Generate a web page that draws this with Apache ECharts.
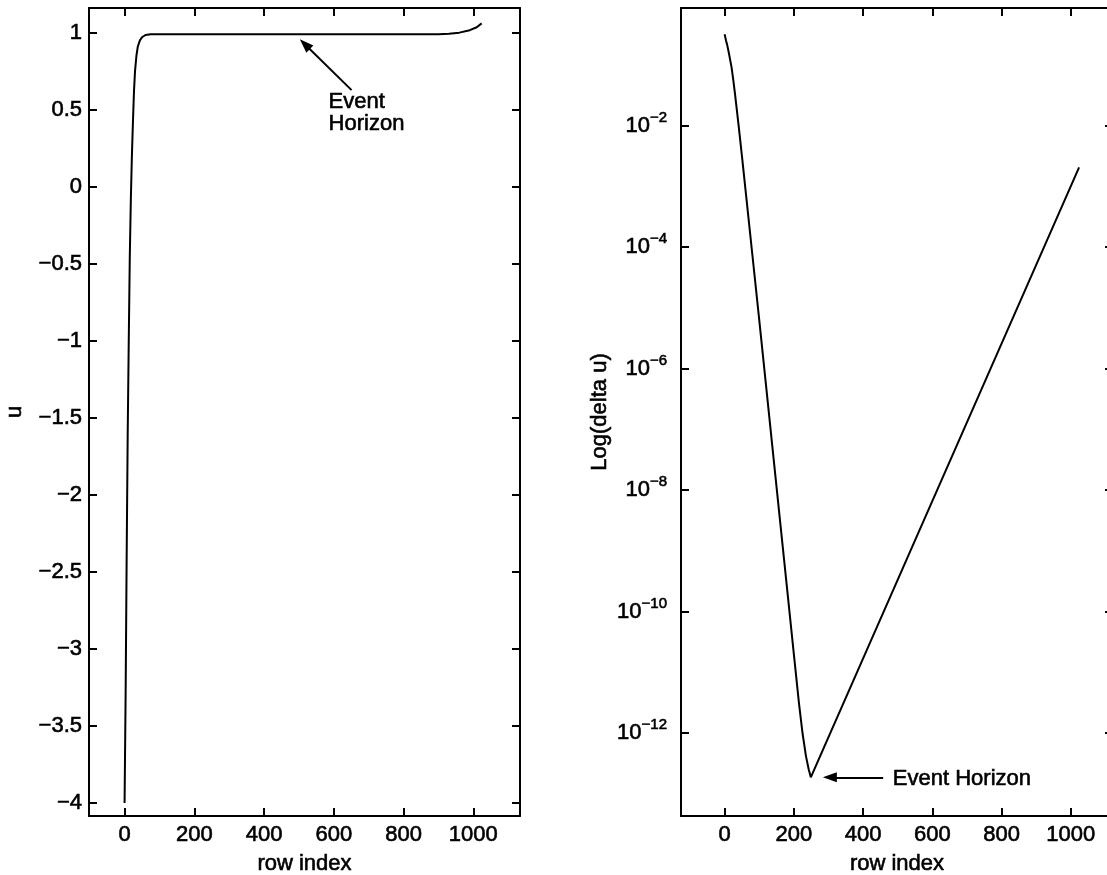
<!DOCTYPE html>
<html>
<head>
<meta charset="utf-8">
<title>Event horizon: u and Log(delta u) by row index</title>
<script src="https://cdn.jsdelivr.net/npm/echarts@6/dist/echarts.min.js"></script>
<style>
  html, body { margin: 0; padding: 0; background: #fff; }
  #chart { width: 1107px; height: 875px; }
</style>
</head>
<body>
<div id="chart"></div>
<script>
// Left panel: solution u along the rows
const rowU = [0, 3, 6, 9, 12, 15, 18, 21, 24, 27, 30, 34, 38, 44, 50, 60, 75, 200, 400, 600, 800, 900, 930, 960, 990, 1010, 1024];
const uValues = [-4.0, -3.3, -2.4, -1.6, -1.0, -0.45, -0.08, 0.2, 0.42, 0.62, 0.75, 0.85, 0.91, 0.95, 0.97, 0.985, 0.99, 0.99, 0.99, 0.99, 0.99, 0.99, 0.993, 1.0, 1.016, 1.035, 1.06];

// Right panel: log10 of the row-to-row change delta u
const rowDelta = [0, 4, 8, 12, 16, 20, 25, 30, 40, 50, 60, 80, 100, 120, 140, 160, 180, 200, 215, 225, 235, 243, 249, 1024];
const logDeltaU = [-0.50, -0.60, -0.69, -0.80, -0.92, -1.04, -1.25, -1.48, -1.98, -2.50, -3.04, -4.12, -5.2, -6.3, -7.4, -8.5, -9.6, -10.7, -11.52, -12.0, -12.38, -12.6, -12.73, -2.69];

// Tick positions
const rowTicks = [0, 200, 400, 600, 800, 1000];
const uTicks = [-4, -3.5, -3, -2.5, -2, -1.5, -1, -0.5, 0, 0.5, 1];
const logTicks = [-12, -10, -8, -6, -4, -2];

const FONT = '"Liberation Sans", Arial, Helvetica, sans-serif';
const BLACK = '#000';
// slight outline so the lettering reads as heavy as the axes
const INK = { textBorderColor: BLACK, textBorderWidth: 0.6 };

function minusSign(v) {
  return String(v).replace('-', '\u2212');
}

function xAxisFor(grid, min, max, bottom) {
  return {
    type: 'value', gridIndex: grid, min: min, max: max,
    position: bottom ? 'bottom' : 'top',
    axisLine: { show: true, onZero: false, lineStyle: { color: BLACK, width: 2 } },
    axisTick: { show: true, inside: true, length: 8, customValues: rowTicks, lineStyle: { color: BLACK, width: 2 } },
    axisLabel: bottom ? Object.assign({
      show: true, customValues: rowTicks, color: BLACK, fontSize: 22, fontFamily: FONT, margin: 8,
      formatter: function (v) { return String(v); }
    }, INK) : { show: false },
    splitLine: { show: false },
    name: bottom ? 'row index' : '',
    nameLocation: 'middle', nameGap: 37,
    nameTextStyle: Object.assign({ color: BLACK, fontSize: 22, fontFamily: FONT }, INK)
  };
}

function yAxisFor(grid, min, max, left, ticks, label, name, nameGap) {
  return {
    type: 'value', gridIndex: grid, min: min, max: max,
    position: left ? 'left' : 'right',
    axisLine: { show: true, onZero: false, lineStyle: { color: BLACK, width: 2 } },
    axisTick: { show: true, inside: true, length: 8, customValues: ticks, lineStyle: { color: BLACK, width: 2 } },
    axisLabel: left ? Object.assign({ show: true, customValues: ticks, color: BLACK, fontSize: 22, fontFamily: FONT }, INK, label) : { show: false },
    splitLine: { show: false },
    name: left ? name : '',
    nameLocation: 'middle', nameGap: nameGap, nameRotate: 90,
    nameTextStyle: Object.assign({ color: BLACK, fontSize: 22, fontFamily: FONT }, INK)
  };
}

const arrowStyle = {
  silent: true,
  symbol: ['none', 'triangle'],
  symbolSize: [10, 14],
  lineStyle: { color: BLACK, width: 2, type: 'solid' },
  itemStyle: { color: BLACK },
  label: { show: false },
  emphasis: { disabled: true },
  animation: false
};

const noteLabel = Object.assign({ color: BLACK, fontSize: 22, fontFamily: FONT, lineHeight: 22 }, INK);

const option = {
  backgroundColor: '#fff',
  animation: false,
  grid: [
    { left: 89, top: 8, width: 431, height: 808, outerBoundsMode: 'none', containLabel: false },
    { left: 681, top: 8, width: 432, height: 808, outerBoundsMode: 'none', containLabel: false }
  ],
  xAxis: [
    xAxisFor(0, -102, 1134, true),
    xAxisFor(0, -102, 1134, false),
    xAxisFor(1, -126, 1122, true),
    xAxisFor(1, -126, 1122, false)
  ],
  yAxis: [
    yAxisFor(0, -4.085, 1.16, true, uTicks, { margin: 7, formatter: minusSign }, 'u', 63),
    yAxisFor(0, -4.085, 1.16, false, uTicks),
    yAxisFor(1, -13.366, -0.067, true, logTicks, {
      margin: 14,
      formatter: function (v) { return '{b|10}{s|' + minusSign(v) + '}'; },
      rich: {
        b: Object.assign({ fontSize: 22, fontFamily: FONT, color: BLACK, verticalAlign: 'middle' }, INK),
        s: Object.assign({ fontSize: 15, fontFamily: FONT, color: BLACK, verticalAlign: 'middle', padding: [0, 0, 16, 0] }, INK)
      }
    }, 'Log(delta u)', 70),
    yAxisFor(1, -13.366, -0.067, false, logTicks)
  ],
  series: [
    {
      type: 'line', xAxisIndex: 0, yAxisIndex: 0,
      data: rowU.map((r, i) => [r, uValues[i]]),
      showSymbol: false, symbol: 'none',
      lineStyle: { color: BLACK, width: 2 },
      silent: true,
      markLine: Object.assign({ data: [[{ coord: [651, 0.627] }, { coord: [517, 0.925] }]] }, arrowStyle),
      markPoint: {
        silent: true, symbol: 'circle', symbolSize: 0,
        data: [{ coord: [585, 0.621], value: 0 }],
        label: Object.assign({ show: true, position: [0, 0], align: 'left', verticalAlign: 'top', formatter: 'Event\nHorizon' }, noteLabel)
      }
    },
    {
      type: 'line', xAxisIndex: 2, yAxisIndex: 2,
      data: rowDelta.map((r, i) => [r, logDeltaU[i]]),
      showSymbol: false, symbol: 'none',
      lineStyle: { color: BLACK, width: 2 },
      silent: true,
      markLine: Object.assign({ data: [[{ coord: [458, -12.73] }, { coord: [304, -12.73] }]] }, arrowStyle),
      markPoint: {
        silent: true, symbol: 'circle', symbolSize: 0,
        data: [{ coord: [486, -12.75], value: 0 }],
        label: Object.assign({ show: true, position: [0, 0], align: 'left', verticalAlign: 'middle', formatter: 'Event Horizon' }, noteLabel)
      }
    }
  ]
};

const chart = echarts.init(document.getElementById('chart'), null, { renderer: 'canvas' });
chart.setOption(option);
</script>
</body>
</html>
